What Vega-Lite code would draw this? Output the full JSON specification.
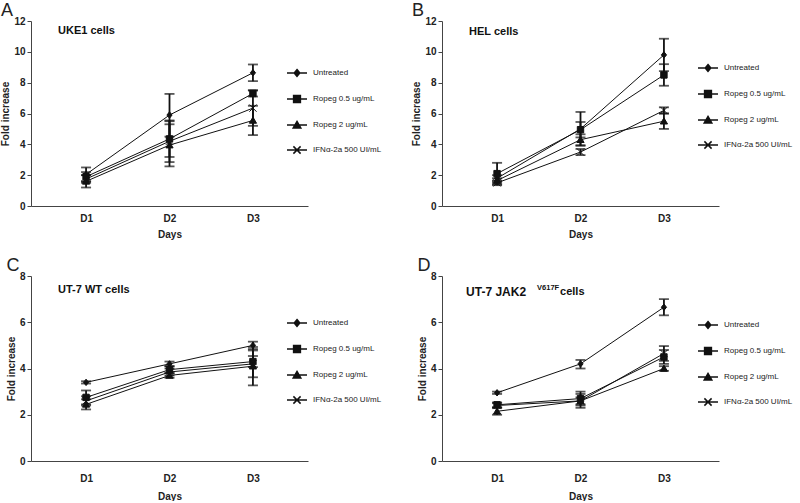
{
  "$schema": "https://vega.github.io/schema/vega-lite/v6.json",
  "padding": {"left": 0, "top": 2, "right": 0, "bottom": 0},
  "config": {
    "view": {"stroke": null},
    "font": "Liberation Sans",
    "axis": {"grid": false, "domainColor": "#444", "tickColor": "#444", "labelFont": "Liberation Sans", "labelFontWeight": "bold", "labelFontSize": 10, "labelColor": "#222", "titleFont": "Liberation Sans", "titleFontSize": 10, "titleFontWeight": "bold", "titleColor": "#222", "tickSize": 4, "labelPadding": 2, "titlePadding": 3, "labelOverlap": false},
    "axisX": {"ticks": false, "labelAngle": 0},
    "legend": {"orient": "none", "legendX": 261, "legendY": 47, "symbolSize": 64, "labelFont": "Liberation Sans", "labelFontSize": 8, "labelColor": "#222", "labelOffset": 11, "rowPadding": 12},
    "title": {"anchor": "start", "frame": "bounds", "fontSize": 18, "fontWeight": "normal", "font": "Liberation Sans", "color": "#222", "offset": -4}
  },
  "datasets": {
    "uke1": [
      {"treatment": "Untreated", "day": "D1", "mean": 2.05, "lo": 1.6, "hi": 2.5},
      {"treatment": "Untreated", "day": "D2", "mean": 5.9, "lo": 4.5, "hi": 7.27},
      {"treatment": "Untreated", "day": "D3", "mean": 8.64, "lo": 8.1, "hi": 9.18},
      {"treatment": "Ropeg 0.5 ug/mL", "day": "D1", "mean": 1.9, "lo": 1.6, "hi": 2.2},
      {"treatment": "Ropeg 0.5 ug/mL", "day": "D2", "mean": 4.35, "lo": 3.18, "hi": 5.5},
      {"treatment": "Ropeg 0.5 ug/mL", "day": "D3", "mean": 7.3, "lo": 7.1, "hi": 7.5},
      {"treatment": "Ropeg 2 ug/mL", "day": "D1", "mean": 1.6, "lo": 1.2, "hi": 2.0},
      {"treatment": "Ropeg 2 ug/mL", "day": "D2", "mean": 3.95, "lo": 2.57, "hi": 5.3},
      {"treatment": "Ropeg 2 ug/mL", "day": "D3", "mean": 5.55, "lo": 4.6, "hi": 6.5},
      {"treatment": "IFNα-2a 500 UI/mL", "day": "D1", "mean": 1.75, "lo": 1.5, "hi": 2.0},
      {"treatment": "IFNα-2a 500 UI/mL", "day": "D2", "mean": 4.2, "lo": 2.85, "hi": 5.55},
      {"treatment": "IFNα-2a 500 UI/mL", "day": "D3", "mean": 6.35, "lo": 5.2, "hi": 7.5}
    ],
    "hel": [
      {"treatment": "Untreated", "day": "D1", "mean": 1.8, "lo": 1.6, "hi": 2.0},
      {"treatment": "Untreated", "day": "D2", "mean": 5.0, "lo": 3.9, "hi": 6.1},
      {"treatment": "Untreated", "day": "D3", "mean": 9.8, "lo": 8.75, "hi": 10.85},
      {"treatment": "Ropeg 0.5 ug/mL", "day": "D1", "mean": 2.1, "lo": 1.4, "hi": 2.8},
      {"treatment": "Ropeg 0.5 ug/mL", "day": "D2", "mean": 4.95, "lo": 4.45, "hi": 5.45},
      {"treatment": "Ropeg 0.5 ug/mL", "day": "D3", "mean": 8.5, "lo": 7.8, "hi": 9.2},
      {"treatment": "Ropeg 2 ug/mL", "day": "D1", "mean": 1.65, "lo": 1.5, "hi": 1.8},
      {"treatment": "Ropeg 2 ug/mL", "day": "D2", "mean": 4.3, "lo": 3.95, "hi": 4.65},
      {"treatment": "Ropeg 2 ug/mL", "day": "D3", "mean": 5.5, "lo": 5.0, "hi": 6.0},
      {"treatment": "IFNα-2a 500 UI/mL", "day": "D1", "mean": 1.5, "lo": 1.35, "hi": 1.65},
      {"treatment": "IFNα-2a 500 UI/mL", "day": "D2", "mean": 3.5, "lo": 3.3, "hi": 3.7},
      {"treatment": "IFNα-2a 500 UI/mL", "day": "D3", "mean": 6.2, "lo": 6.0, "hi": 6.4}
    ],
    "ut7wt": [
      {"treatment": "Untreated", "day": "D1", "mean": 3.4, "lo": 3.35, "hi": 3.45},
      {"treatment": "Untreated", "day": "D2", "mean": 4.2, "lo": 4.1, "hi": 4.3},
      {"treatment": "Untreated", "day": "D3", "mean": 5.0, "lo": 4.84, "hi": 5.16},
      {"treatment": "Ropeg 0.5 ug/mL", "day": "D1", "mean": 2.75, "lo": 2.45, "hi": 3.05},
      {"treatment": "Ropeg 0.5 ug/mL", "day": "D2", "mean": 3.95, "lo": 3.8, "hi": 4.1},
      {"treatment": "Ropeg 0.5 ug/mL", "day": "D3", "mean": 4.3, "lo": 4.06, "hi": 4.54},
      {"treatment": "Ropeg 2 ug/mL", "day": "D1", "mean": 2.45, "lo": 2.23, "hi": 2.67},
      {"treatment": "Ropeg 2 ug/mL", "day": "D2", "mean": 3.7, "lo": 3.6, "hi": 3.8},
      {"treatment": "Ropeg 2 ug/mL", "day": "D3", "mean": 4.1, "lo": 3.27, "hi": 4.93},
      {"treatment": "IFNα-2a 500 UI/mL", "day": "D1", "mean": 2.6, "lo": 2.4, "hi": 2.8},
      {"treatment": "IFNα-2a 500 UI/mL", "day": "D2", "mean": 3.85, "lo": 3.7, "hi": 4.0},
      {"treatment": "IFNα-2a 500 UI/mL", "day": "D3", "mean": 4.2, "lo": 3.62, "hi": 4.78}
    ],
    "ut7jak2": [
      {"treatment": "Untreated", "day": "D1", "mean": 2.95, "lo": 2.9, "hi": 3.0},
      {"treatment": "Untreated", "day": "D2", "mean": 4.2, "lo": 4.0, "hi": 4.37},
      {"treatment": "Untreated", "day": "D3", "mean": 6.65, "lo": 6.3, "hi": 7.0},
      {"treatment": "Ropeg 0.5 ug/mL", "day": "D1", "mean": 2.43, "lo": 2.33, "hi": 2.53},
      {"treatment": "Ropeg 0.5 ug/mL", "day": "D2", "mean": 2.7, "lo": 2.4, "hi": 3.0},
      {"treatment": "Ropeg 0.5 ug/mL", "day": "D3", "mean": 4.5, "lo": 4.2, "hi": 4.8},
      {"treatment": "Ropeg 2 ug/mL", "day": "D1", "mean": 2.15, "lo": 2.0, "hi": 2.3},
      {"treatment": "Ropeg 2 ug/mL", "day": "D2", "mean": 2.6, "lo": 2.3, "hi": 2.9},
      {"treatment": "Ropeg 2 ug/mL", "day": "D3", "mean": 4.0, "lo": 3.9, "hi": 4.1},
      {"treatment": "IFNα-2a 500 UI/mL", "day": "D1", "mean": 2.4, "lo": 2.3, "hi": 2.5},
      {"treatment": "IFNα-2a 500 UI/mL", "day": "D2", "mean": 2.6, "lo": 2.45, "hi": 2.75},
      {"treatment": "IFNα-2a 500 UI/mL", "day": "D3", "mean": 4.65, "lo": 4.33, "hi": 4.97}
    ]
  },
  "columns": 2,
  "spacing": {"row": 70, "column": 134},
  "bounds": "flush",
  "resolve": {"scale": {"shape": "independent", "y": "independent", "x": "independent"}, "legend": {"shape": "independent"}},
  "concat": [
    {
      "width": 277, "height": 185,
      "title": {"text": "A"},
      "resolve": {"scale": {"shape": "independent"}},
      "encoding": {"x": {"field": "day", "type": "ordinal", "scale": {"type": "point", "padding": 0.66, "domain": ["D1", "D2", "D3"]}, "axis": {"title": "Days", "labelPadding": 7, "titlePadding": 6}}},
      "layer": [
        {"data": {"name": "uke1"}, "mark": {"type": "line", "color": "#111", "strokeWidth": 1}, "encoding": {"y": {"field": "mean", "type": "quantitative", "title": "Fold increase", "scale": {"domain": [0, 12], "nice": false}, "axis": {"values": [0, 2, 4, 6, 8, 10, 12], "tickCount": 7, "labelOverlap": false}}, "detail": {"field": "treatment"}}},
        {"data": {"name": "uke1"}, "mark": {"type": "errorbar", "ticks": {"size": 10}, "thickness": 1.8, "color": "#111"}, "encoding": {"y": {"field": "lo", "type": "quantitative", "title": "Fold increase", "axis": {"values": [0, 2, 4, 6, 8, 10, 12], "tickCount": 7, "labelOverlap": false}}, "y2": {"field": "hi"}}},
        {"data": {"name": "uke1"}, "mark": {"type": "point", "filled": true, "size": 64, "color": "#111", "stroke": "#111", "strokeWidth": 1, "opacity": 1},
         "encoding": {"y": {"field": "mean", "type": "quantitative", "title": "Fold increase", "axis": {"values": [0, 2, 4, 6, 8, 10, 12], "tickCount": 7, "labelOverlap": false}},
          "shape": {"field": "treatment", "type": "nominal", "scale": {"domain": ["Untreated", "Ropeg 0.5 ug/mL", "Ropeg 2 ug/mL", "IFNα-2a 500 UI/mL"], "range": ["M0,-0.8L0.65,0L0,0.8L-0.65,0Z", "M-0.8,-0.8H0.8V0.8H-0.8Z", "M0,-0.85L0.9,0.7H-0.9Z", "M-0.9,-0.9L0.9,0.9M-0.9,0.9L0.9,-0.9"]}, "legend": null}}},
        {"data": {"values": []}, "mark": {"type": "point", "filled": true, "size": 64, "color": "#111", "stroke": "#111", "strokeWidth": 1, "opacity": 1},
         "encoding": {"y": {"field": "mean", "type": "quantitative", "title": "Fold increase", "axis": {"values": [0, 2, 4, 6, 8, 10, 12], "tickCount": 7, "labelOverlap": false}},
          "shape": {"field": "treatment", "type": "nominal", "scale": {"domain": ["Untreated", "Ropeg 0.5 ug/mL", "Ropeg 2 ug/mL", "IFNα-2a 500 UI/mL"], "range": ["M-2.5,0H2.5M0,-0.85L0.7,0L0,0.85L-0.7,0Z", "M-2.5,0H2.5M-0.85,-0.85H0.85V0.85H-0.85Z", "M-2.5,0H2.5M0,-0.9L0.95,0.75H-0.95Z", "M-2.5,0H2.5M-0.9,-0.9L0.9,0.9M-0.9,0.9L0.9,-0.9"]}, "legend": {"title": null, "legendY": 47}}}},
        {"data": {"values": [{"label": "UKE1 cells"}]}, "mark": {"type": "text", "align": "left", "baseline": "middle", "dx": -28, "fontSize": 11, "fontWeight": "bold", "color": "#111"}, "encoding": {"x": {"datum": "D1"}, "y": {"datum": 11.35, "type": "quantitative", "axis": {"values": [0, 2, 4, 6, 8, 10, 12], "tickCount": 7, "labelOverlap": false}}, "text": {"field": "label"}}}
      ]
    },
    {
      "width": 277, "height": 185,
      "title": {"text": "B"},
      "resolve": {"scale": {"shape": "independent"}},
      "encoding": {"x": {"field": "day", "type": "ordinal", "scale": {"type": "point", "padding": 0.66, "domain": ["D1", "D2", "D3"]}, "axis": {"title": "Days", "labelPadding": 7, "titlePadding": 6}}},
      "layer": [
        {"data": {"name": "hel"}, "mark": {"type": "line", "color": "#111", "strokeWidth": 1}, "encoding": {"y": {"field": "mean", "type": "quantitative", "title": "Fold increase", "scale": {"domain": [0, 12], "nice": false}, "axis": {"values": [0, 2, 4, 6, 8, 10, 12], "tickCount": 7, "labelOverlap": false}}, "detail": {"field": "treatment"}}},
        {"data": {"name": "hel"}, "mark": {"type": "errorbar", "ticks": {"size": 10}, "thickness": 1.8, "color": "#111"}, "encoding": {"y": {"field": "lo", "type": "quantitative", "title": "Fold increase", "axis": {"values": [0, 2, 4, 6, 8, 10, 12], "tickCount": 7, "labelOverlap": false}}, "y2": {"field": "hi"}}},
        {"data": {"name": "hel"}, "mark": {"type": "point", "filled": true, "size": 64, "color": "#111", "stroke": "#111", "strokeWidth": 1, "opacity": 1},
         "encoding": {"y": {"field": "mean", "type": "quantitative", "title": "Fold increase", "axis": {"values": [0, 2, 4, 6, 8, 10, 12], "tickCount": 7, "labelOverlap": false}},
          "shape": {"field": "treatment", "type": "nominal", "scale": {"domain": ["Untreated", "Ropeg 0.5 ug/mL", "Ropeg 2 ug/mL", "IFNα-2a 500 UI/mL"], "range": ["M0,-0.8L0.65,0L0,0.8L-0.65,0Z", "M-0.8,-0.8H0.8V0.8H-0.8Z", "M0,-0.85L0.9,0.7H-0.9Z", "M-0.9,-0.9L0.9,0.9M-0.9,0.9L0.9,-0.9"]}, "legend": null}}},
        {"data": {"values": []}, "mark": {"type": "point", "filled": true, "size": 64, "color": "#111", "stroke": "#111", "strokeWidth": 1, "opacity": 1},
         "encoding": {"y": {"field": "mean", "type": "quantitative", "title": "Fold increase", "axis": {"values": [0, 2, 4, 6, 8, 10, 12], "tickCount": 7, "labelOverlap": false}},
          "shape": {"field": "treatment", "type": "nominal", "scale": {"domain": ["Untreated", "Ropeg 0.5 ug/mL", "Ropeg 2 ug/mL", "IFNα-2a 500 UI/mL"], "range": ["M-2.5,0H2.5M0,-0.85L0.7,0L0,0.85L-0.7,0Z", "M-2.5,0H2.5M-0.85,-0.85H0.85V0.85H-0.85Z", "M-2.5,0H2.5M0,-0.9L0.95,0.75H-0.95Z", "M-2.5,0H2.5M-0.9,-0.9L0.9,0.9M-0.9,0.9L0.9,-0.9"]}, "legend": {"title": null, "legendY": 42}}}},
        {"data": {"values": [{"label": "HEL cells"}]}, "mark": {"type": "text", "align": "left", "baseline": "middle", "dx": -28, "fontSize": 11, "fontWeight": "bold", "color": "#111"}, "encoding": {"x": {"datum": "D1"}, "y": {"datum": 11.3, "type": "quantitative", "axis": {"values": [0, 2, 4, 6, 8, 10, 12], "tickCount": 7, "labelOverlap": false}}, "text": {"field": "label"}}}
      ]
    },
    {
      "width": 277, "height": 185,
      "title": {"text": "C"},
      "resolve": {"scale": {"shape": "independent"}},
      "encoding": {"x": {"field": "day", "type": "ordinal", "scale": {"type": "point", "padding": 0.66, "domain": ["D1", "D2", "D3"]}, "axis": {"title": "Days", "labelPadding": 12, "titlePadding": 8}}},
      "layer": [
        {"data": {"name": "ut7wt"}, "mark": {"type": "line", "color": "#111", "strokeWidth": 1}, "encoding": {"y": {"field": "mean", "type": "quantitative", "title": "Fold increase", "scale": {"domain": [0, 8], "nice": false}, "axis": {"values": [0, 2, 4, 6, 8]}}, "detail": {"field": "treatment"}}},
        {"data": {"name": "ut7wt"}, "mark": {"type": "errorbar", "ticks": {"size": 10}, "thickness": 1.8, "color": "#111"}, "encoding": {"y": {"field": "lo", "type": "quantitative", "title": "Fold increase", "axis": {"values": [0, 2, 4, 6, 8]}}, "y2": {"field": "hi"}}},
        {"data": {"name": "ut7wt"}, "mark": {"type": "point", "filled": true, "size": 64, "color": "#111", "stroke": "#111", "strokeWidth": 1, "opacity": 1},
         "encoding": {"y": {"field": "mean", "type": "quantitative", "title": "Fold increase", "axis": {"values": [0, 2, 4, 6, 8]}},
          "shape": {"field": "treatment", "type": "nominal", "scale": {"domain": ["Untreated", "Ropeg 0.5 ug/mL", "Ropeg 2 ug/mL", "IFNα-2a 500 UI/mL"], "range": ["M0,-0.8L0.65,0L0,0.8L-0.65,0Z", "M-0.8,-0.8H0.8V0.8H-0.8Z", "M0,-0.85L0.9,0.7H-0.9Z", "M-0.9,-0.9L0.9,0.9M-0.9,0.9L0.9,-0.9"]}, "legend": null}}},
        {"data": {"values": []}, "mark": {"type": "point", "filled": true, "size": 64, "color": "#111", "stroke": "#111", "strokeWidth": 1, "opacity": 1},
         "encoding": {"y": {"field": "mean", "type": "quantitative", "title": "Fold increase", "axis": {"values": [0, 2, 4, 6, 8]}},
          "shape": {"field": "treatment", "type": "nominal", "scale": {"domain": ["Untreated", "Ropeg 0.5 ug/mL", "Ropeg 2 ug/mL", "IFNα-2a 500 UI/mL"], "range": ["M-2.5,0H2.5M0,-0.85L0.7,0L0,0.85L-0.7,0Z", "M-2.5,0H2.5M-0.85,-0.85H0.85V0.85H-0.85Z", "M-2.5,0H2.5M0,-0.9L0.95,0.75H-0.95Z", "M-2.5,0H2.5M-0.9,-0.9L0.9,0.9M-0.9,0.9L0.9,-0.9"]}, "legend": {"title": null, "legendY": 42}}}},
        {"data": {"values": [{"label": "UT-7 WT cells"}]}, "mark": {"type": "text", "align": "left", "baseline": "middle", "dx": -28, "fontSize": 11, "fontWeight": "bold", "color": "#111"}, "encoding": {"x": {"datum": "D1"}, "y": {"datum": 7.4, "type": "quantitative"}, "text": {"field": "label"}}}
      ]
    },
    {
      "width": 277, "height": 185,
      "title": {"text": "D"},
      "resolve": {"scale": {"shape": "independent"}},
      "encoding": {"x": {"field": "day", "type": "ordinal", "scale": {"type": "point", "padding": 0.66, "domain": ["D1", "D2", "D3"]}, "axis": {"title": "Days", "labelPadding": 12, "titlePadding": 8}}},
      "layer": [
        {"data": {"name": "ut7jak2"}, "mark": {"type": "line", "color": "#111", "strokeWidth": 1}, "encoding": {"y": {"field": "mean", "type": "quantitative", "title": "Fold increase", "scale": {"domain": [0, 8], "nice": false}, "axis": {"values": [0, 2, 4, 6, 8]}}, "detail": {"field": "treatment"}}},
        {"data": {"name": "ut7jak2"}, "mark": {"type": "errorbar", "ticks": {"size": 10}, "thickness": 1.8, "color": "#111"}, "encoding": {"y": {"field": "lo", "type": "quantitative", "title": "Fold increase", "axis": {"values": [0, 2, 4, 6, 8]}}, "y2": {"field": "hi"}}},
        {"data": {"name": "ut7jak2"}, "mark": {"type": "point", "filled": true, "size": 64, "color": "#111", "stroke": "#111", "strokeWidth": 1, "opacity": 1},
         "encoding": {"y": {"field": "mean", "type": "quantitative", "title": "Fold increase", "axis": {"values": [0, 2, 4, 6, 8]}},
          "shape": {"field": "treatment", "type": "nominal", "scale": {"domain": ["Untreated", "Ropeg 0.5 ug/mL", "Ropeg 2 ug/mL", "IFNα-2a 500 UI/mL"], "range": ["M0,-0.8L0.65,0L0,0.8L-0.65,0Z", "M-0.8,-0.8H0.8V0.8H-0.8Z", "M0,-0.85L0.9,0.7H-0.9Z", "M-0.9,-0.9L0.9,0.9M-0.9,0.9L0.9,-0.9"]}, "legend": null}}},
        {"data": {"values": []}, "mark": {"type": "point", "filled": true, "size": 64, "color": "#111", "stroke": "#111", "strokeWidth": 1, "opacity": 1},
         "encoding": {"y": {"field": "mean", "type": "quantitative", "title": "Fold increase", "axis": {"values": [0, 2, 4, 6, 8]}},
          "shape": {"field": "treatment", "type": "nominal", "scale": {"domain": ["Untreated", "Ropeg 0.5 ug/mL", "Ropeg 2 ug/mL", "IFNα-2a 500 UI/mL"], "range": ["M-2.5,0H2.5M0,-0.85L0.7,0L0,0.85L-0.7,0Z", "M-2.5,0H2.5M-0.85,-0.85H0.85V0.85H-0.85Z", "M-2.5,0H2.5M0,-0.9L0.95,0.75H-0.95Z", "M-2.5,0H2.5M-0.9,-0.9L0.9,0.9M-0.9,0.9L0.9,-0.9"]}, "legend": {"title": null, "legendY": 44}}}},
        {"data": {"values": [{"label": "UT-7 JAK2"}]}, "mark": {"type": "text", "align": "left", "baseline": "middle", "dx": -31, "fontSize": 12, "fontWeight": "bold", "color": "#111"}, "encoding": {"x": {"datum": "D1"}, "y": {"datum": 7.3, "type": "quantitative"}, "text": {"field": "label"}}},
        {"data": {"values": [{"label": "V617F"}]}, "mark": {"type": "text", "align": "left", "baseline": "middle", "dx": 40, "dy": -4, "fontSize": 7.5, "fontWeight": "bold", "color": "#111"}, "encoding": {"x": {"datum": "D1"}, "y": {"datum": 7.3, "type": "quantitative"}, "text": {"field": "label"}}},
        {"data": {"values": [{"label": "cells"}]}, "mark": {"type": "text", "align": "left", "baseline": "middle", "dx": 63, "fontSize": 11, "fontWeight": "bold", "color": "#111"}, "encoding": {"x": {"datum": "D1"}, "y": {"datum": 7.3, "type": "quantitative"}, "text": {"field": "label"}}}
      ]
    }
  ]
}
